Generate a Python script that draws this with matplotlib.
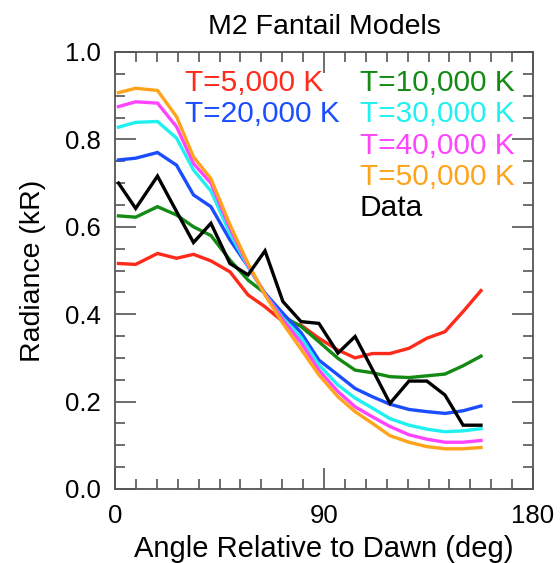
import numpy as np
import matplotlib
matplotlib.use("Agg")
import matplotlib.pyplot as plt
from matplotlib.ticker import MultipleLocator

plt.rcParams['font.family'] = ['Liberation Sans', 'DejaVu Sans']

# angle relative to dawn (deg)
angle = [1.5, 8.9, 18.3, 26.5, 33.8, 41.3, 49.5, 57.3, 64.6, 72.3, 80.1,
         87.8, 96.0, 103.4, 110.9, 118.4, 126.6, 134.3, 142.1, 149.9, 157.6]

# observed radiance (kR)
data = [0.700, 0.642, 0.716, 0.635, 0.564, 0.608, 0.516, 0.490, 0.545, 0.429, 0.383,
        0.379, 0.311, 0.349, 0.273, 0.196, 0.247, 0.247, 0.215, 0.146, 0.146]

# model radiance (kR) for each temperature
t5k = [0.516, 0.514, 0.539, 0.528, 0.537, 0.522, 0.497, 0.444, 0.417, 0.383, 0.375,
       0.345, 0.318, 0.300, 0.310, 0.310, 0.322, 0.345, 0.360, 0.406, 0.454]
t10k = [0.625, 0.622, 0.646, 0.627, 0.600, 0.580, 0.524, 0.478, 0.448, 0.395, 0.372,
        0.337, 0.299, 0.272, 0.266, 0.257, 0.255, 0.259, 0.263, 0.282, 0.304]
t20k = [0.753, 0.757, 0.770, 0.741, 0.673, 0.646, 0.570, 0.509, 0.448, 0.402, 0.358,
        0.295, 0.261, 0.230, 0.211, 0.194, 0.182, 0.177, 0.173, 0.179, 0.190]
t30k = [0.828, 0.839, 0.841, 0.803, 0.730, 0.682, 0.585, 0.509, 0.446, 0.391, 0.347,
        0.284, 0.238, 0.208, 0.185, 0.161, 0.146, 0.137, 0.131, 0.133, 0.138]
t40k = [0.875, 0.886, 0.883, 0.829, 0.745, 0.700, 0.597, 0.512, 0.446, 0.387, 0.335,
        0.272, 0.223, 0.188, 0.165, 0.143, 0.124, 0.114, 0.107, 0.107, 0.111]
t50k = [0.907, 0.917, 0.912, 0.852, 0.760, 0.710, 0.605, 0.516, 0.444, 0.379, 0.320,
        0.261, 0.211, 0.177, 0.150, 0.122, 0.107, 0.097, 0.092, 0.092, 0.095]

labels = ["T=5,000 K", "T=10,000 K", "T=20,000 K", "T=30,000 K",
          "T=40,000 K", "T=50,000 K", "Data"]
colors = ["#ff2a1a", "#138a13", "#1a4dff", "#1ff0f0", "#ff44ff", "#ffa41a", "black"]

W, H = 560, 563
fig = plt.figure(figsize=(W/100, H/100), dpi=100)
ax = fig.add_axes([115/W, 1-489/H, 418/W, 437/H])

series = [t5k, t10k, t20k, t30k, t40k, t50k, data]
# models first, data last so it sits on top
for ys, c in zip(series, colors):
    ax.plot(angle, ys, color=c, lw=2.4, solid_joinstyle='miter')

ax.set_xlim(0, 180)
ax.set_ylim(0, 1.0)
ax.xaxis.set_major_locator(MultipleLocator(90))
ax.xaxis.set_minor_locator(MultipleLocator(9))
ax.yaxis.set_major_locator(MultipleLocator(0.2))
ax.yaxis.set_minor_locator(MultipleLocator(0.05))
ax.yaxis.set_major_formatter(matplotlib.ticker.FormatStrFormatter('%.1f'))

fc = '#555555'
for s in ax.spines.values():
    s.set_color(fc)
    s.set_linewidth(1.3)
ax.tick_params(which='both', direction='in', top=True, right=True, color=fc,
               width=1.2, labelsize=18.5, pad=10)
ax.tick_params(axis='x', which='both', pad=11)
ax.tick_params(which='major', length=15)
ax.tick_params(which='minor', length=7.5)

ax.set_xlabel("Angle Relative to Dawn (deg)", fontsize=21, labelpad=5)
ax.set_ylabel("Radiance (kR)", fontsize=20.5, labelpad=14)
ax.set_title("M2 Fantail Models", fontsize=20.5, pad=13)

# legend drawn as coloured text
leg_pos = [(185, 83), (360, 83), (185, 114), (360, 114),
           (360, 146), (360, 177), (360, 208)]
for (px, py), lab, c in zip(leg_pos, labels, colors):
    fig.text(px/W, 1-py/H, lab, color=c, fontsize=21.5, va='center', ha='left')

fig.savefig("out.png", dpi=100)
